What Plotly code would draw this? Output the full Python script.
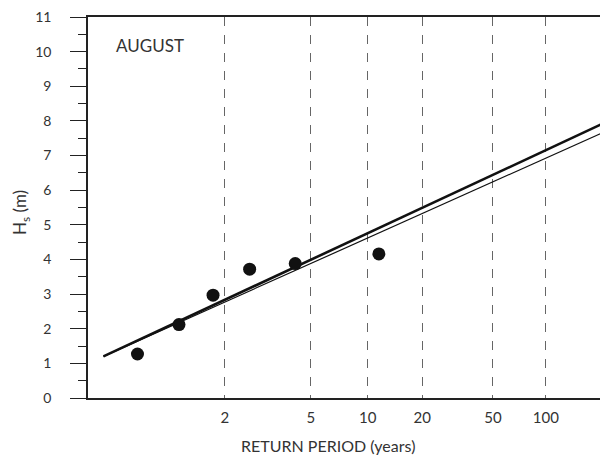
import numpy as np
import plotly.graph_objects as go

# Observed August maxima: return period (years) and Hs (m)
obs_T = [1.125, 1.39, 1.80, 2.54, 4.17, 11.5]
obs_hs = [1.27, 2.12, 2.97, 3.72, 3.88, 4.16]

# Fitted lines (endpoints, return period in years -> Hs in m)
fit_T = [1.033, 211.0]
fit1_hs = [1.20, 7.92]   # thick line
fit2_hs = [1.20, 7.66]   # thin line

tick_T = [2, 5, 10, 20, 50, 100]
tick_labels = ["2", "5", "10", "20", "50", "100"]


def gumbel(T):
    T = np.asarray(T, dtype=float)
    return -np.log(-np.log(1.0 - 1.0 / T))


FONT = "Lato, 'DejaVu Sans', sans-serif"
TXT = "#333333"
TOP = 9
PH = 456.0 - 66 - TOP  # plot-area height in px

fig = go.Figure()
fig.add_trace(go.Scatter(x=gumbel(fit_T), y=fit2_hs, mode="lines",
                         line=dict(color="#111111", width=1.2), showlegend=False))
fig.add_trace(go.Scatter(x=gumbel(fit_T), y=fit1_hs, mode="lines",
                         line=dict(color="#111111", width=2.6), showlegend=False))
fig.add_trace(go.Scatter(x=gumbel(obs_T), y=obs_hs, mode="markers",
                         marker=dict(color="#111111", size=13), showlegend=False))

fig.update_layout(
    width=600, height=456,
    margin=dict(l=80, r=0, t=TOP, b=66),
    paper_bgcolor="white", plot_bgcolor="white",
    font=dict(family=FONT, color=TXT, size=14),
    xaxis=dict(
        range=[-1.44, 5.42], automargin=False,
        tickvals=list(gumbel(tick_T)), ticktext=tick_labels,
        ticks="", showgrid=True, gridcolor="#666666", griddash="dash", gridwidth=0.8,
        showline=True, linecolor="#222222", linewidth=1.5, mirror=True,
        zeroline=False, tickfont=dict(size=15, color=TXT), ticklabelstandoff=5,
    ),
    yaxis=dict(
        range=[0, 11], dtick=1, tick0=0, automargin=False,
        ticks="outside", ticklen=16, tickwidth=1.2, tickcolor="#222222",
        minor=dict(dtick=0.5, ticks="outside", ticklen=8, tickwidth=1.2, tickcolor="#222222"),
        showgrid=False, zeroline=False,
        showline=True, linecolor="#222222", linewidth=1.5,
        tickfont=dict(size=14, color=TXT), ticklabelstandoff=16,
        ticklabeloverflow="allow",
    ),
    annotations=[
        dict(text="AUGUST", xref="paper", yref="paper", x=(114 - 88) / 520, y=(398 - 45) / PH,
             xanchor="left", yanchor="middle", showarrow=False, font=dict(size=17, color=TXT)),
        dict(text="RETURN PERIOD (years)", xref="paper", yref="paper", x=(328 - 88) / 520,
             y=(398 - 445) / PH, xanchor="center", yanchor="middle", showarrow=False,
             font=dict(size=16, color=TXT)),
        dict(text="H<sub>s</sub> (m)", xref="paper", yref="paper", x=(21 - 88) / 520,
             y=(398 - 213) / PH, xanchor="center", yanchor="middle", textangle=-90,
             showarrow=False, font=dict(size=17, color=TXT)),
    ],
)

fig.write_html("out.html")
